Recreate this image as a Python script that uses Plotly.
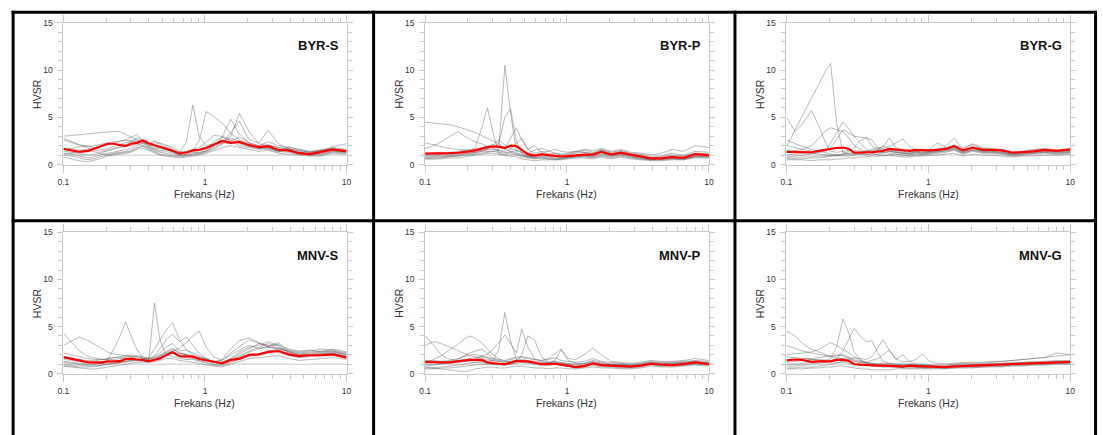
import plotly.graph_objects as go

# Frequency samples (Hz) shared by every HVSR curve
FREQ = [0.10, 0.115, 0.13, 0.15, 0.17, 0.19, 0.205, 0.225, 0.25, 0.275,
        0.30, 0.33, 0.365, 0.40, 0.44, 0.48, 0.53, 0.59, 0.66, 0.74,
        0.82, 0.91, 1.02, 1.15, 1.32, 1.52, 1.75, 2.05, 2.4, 2.8,
        3.3, 3.9, 4.6, 5.5, 6.6, 8.0, 10.0]

PANEL_NAMES = ["BYR-S", "BYR-P", "BYR-G", "MNV-S", "MNV-P", "MNV-G"]

X_TICKS = [0.1, 1, 10]
X_TICK_TEXT = ["0.1", "1", "10"]
X_MINOR = [0.2, 0.3, 0.4, 0.5, 0.6, 0.7, 0.8, 0.9, 2, 3, 4, 5, 6, 7, 8, 9]
Y_TICKS = [0, 5, 10, 15]
Y_MINOR = [1, 2, 3, 4, 6, 7, 8, 9, 11, 12, 13, 14]

# ---- BYR-S ----
BYR_S_MEAN = [1.65, 1.5, 1.35, 1.45, 1.75, 2.0, 2.2, 2.2, 2.05, 1.95,
              2.2, 2.3, 2.55, 2.25, 2.05, 1.9, 1.7, 1.45, 1.15, 1.3,
              1.5, 1.55, 1.75, 2.1, 2.5, 2.3, 2.4, 2.05, 1.85, 1.95,
              1.55, 1.5, 1.2, 1.1, 1.35, 1.6, 1.4]
BYR_S_CURVES = [
    [3.0, 3.1, 3.2, 3.3, 3.35, 3.4, 3.45, 3.5, 3.5, 3.2, 2.9, 2.6, 2.4, 2.1, 1.9, 1.7, 1.6, 1.4, 1.2, 1.3,
     1.5, 1.6, 1.8, 2.0, 2.3, 2.2, 2.5, 2.0, 1.7, 1.9, 1.6, 1.5, 1.3, 1.2, 1.3, 1.6, 1.5],
    [2.8, 2.4, 2.1, 1.9, 2.0, 2.2, 2.3, 2.4, 2.5, 2.6, 2.5, 2.4, 2.2, 2.0, 1.7, 1.8, 1.6, 1.5, 1.3, 2.4,
     6.3, 3.0, 2.0, 2.2, 2.6, 2.4, 2.0, 1.8, 1.6, 1.8, 1.4, 1.6, 1.3, 1.0, 1.2, 1.4, 1.3],
    [1.8, 1.6, 1.5, 1.6, 1.8, 2.0, 2.1, 2.2, 2.4, 2.6, 2.9, 3.2, 2.4, 2.0, 2.3, 2.2, 1.9, 1.6, 1.3, 1.3,
     1.5, 2.5, 5.6, 5.1, 4.4, 3.3, 2.6, 2.2, 1.8, 1.7, 1.4, 1.3, 1.1, 1.0, 1.1, 1.3, 1.2],
    [1.4, 1.3, 1.1, 1.0, 1.1, 1.3, 1.5, 1.6, 1.8, 1.9, 2.0, 2.2, 2.0, 1.8, 1.6, 1.5, 1.4, 1.2, 1.0, 1.1,
     1.3, 1.2, 1.5, 2.0, 2.4, 3.0, 5.4, 3.5, 2.2, 2.0, 1.8, 1.7, 1.4, 1.3, 1.5, 1.8, 1.6],
    [1.2, 1.1, 0.9, 0.7, 0.9, 1.1, 1.2, 1.3, 1.5, 1.6, 1.7, 2.0, 2.3, 1.9, 1.4, 1.3, 1.2, 1.0, 0.9, 1.0,
     1.2, 1.3, 1.4, 1.9, 2.9, 4.8, 3.2, 2.3, 2.0, 1.7, 1.5, 1.4, 1.2, 1.0, 1.0, 1.4, 1.3],
    [1.0, 0.9, 0.7, 0.5, 0.7, 0.9, 1.0, 1.2, 1.3, 1.4, 1.5, 1.8, 1.9, 1.6, 1.3, 1.1, 1.0, 0.9, 0.8, 0.9,
     1.0, 1.1, 1.3, 1.6, 2.2, 3.4, 4.6, 2.6, 2.3, 3.6, 2.2, 1.7, 1.3, 1.1, 1.2, 1.5, 1.4],
    [0.8, 0.6, 0.4, 0.3, 0.5, 0.7, 0.9, 1.0, 1.1, 1.2, 1.3, 1.6, 1.7, 1.5, 1.2, 1.0, 0.9, 0.8, 0.7, 0.8,
     0.9, 1.0, 1.2, 1.5, 1.8, 2.0, 1.8, 1.6, 1.4, 1.5, 1.2, 1.1, 1.0, 0.9, 0.9, 1.2, 1.1],
    [2.6, 2.3, 2.0, 1.7, 1.5, 1.4, 1.5, 1.7, 1.9, 2.1, 2.4, 2.6, 2.3, 2.2, 2.5, 2.3, 2.1, 1.8, 1.4, 1.3,
     1.6, 1.8, 2.4, 3.1, 3.0, 2.6, 2.2, 1.9, 1.7, 1.6, 1.3, 1.9, 1.6, 1.3, 1.4, 1.9, 2.2],
    [1.1, 1.2, 1.4, 1.5, 1.3, 1.1, 1.0, 1.1, 1.2, 1.3, 1.4, 1.7, 2.0, 1.7, 1.5, 1.4, 1.6, 1.3, 1.0, 1.0,
     1.1, 1.2, 1.4, 1.8, 2.2, 2.8, 2.4, 2.0, 1.9, 2.1, 1.8, 1.6, 1.5, 1.3, 1.6, 1.7, 1.5],
    [1.6, 1.7, 1.9, 2.0, 1.7, 1.6, 1.7, 1.9, 2.1, 2.3, 2.5, 2.8, 2.6, 2.3, 2.0, 1.8, 1.6, 1.4, 1.2, 1.2,
     1.4, 1.5, 1.7, 2.4, 2.9, 2.5, 2.9, 2.3, 2.0, 2.4, 2.0, 1.8, 1.6, 1.4, 1.5, 1.5, 1.4],
]

# ---- BYR-P ----
BYR_P_MEAN = [1.15, 1.15, 1.15, 1.2, 1.25, 1.3, 1.4, 1.5, 1.7, 1.85,
              1.9, 1.9, 1.75, 2.0, 1.95, 1.55, 1.1, 0.95, 1.1, 1.0,
              0.95, 0.85, 0.9, 1.0, 1.05, 1.05, 1.35, 1.05, 1.25, 1.05,
              0.85, 0.65, 0.65, 0.8, 0.7, 1.1, 1.0]
BYR_P_CURVES = [
    [4.5, 4.4, 4.3, 4.2, 4.0, 3.8, 3.6, 3.4, 3.1, 2.8, 2.5, 2.2, 1.7, 1.3, 1.1, 0.9, 0.8, 0.9, 1.0, 0.9,
     0.8, 0.8, 0.9, 1.0, 1.1, 1.0, 1.3, 1.0, 1.2, 1.0, 0.8, 0.6, 0.6, 0.7, 0.7, 1.0, 0.9],
    [0.7, 0.75, 0.8, 0.9, 1.0, 1.1, 1.2, 1.3, 1.4, 1.4, 1.4, 1.5, 10.5, 5.5, 1.3, 1.0, 0.8, 0.7, 0.8, 0.7,
     0.6, 0.6, 0.8, 0.9, 0.9, 0.8, 1.1, 0.9, 1.1, 0.9, 0.7, 0.5, 0.6, 0.7, 0.6, 0.9, 0.9],
    [1.2, 1.2, 1.3, 1.3, 1.4, 1.5, 1.6, 1.7, 3.8, 6.0, 3.5, 1.2, 1.0, 1.3, 1.5, 1.2, 0.9, 0.8, 0.9, 0.8,
     0.7, 0.7, 0.8, 0.9, 1.0, 0.9, 1.2, 0.9, 1.1, 0.8, 0.7, 0.6, 0.6, 0.7, 0.6, 0.9, 0.8],
    [0.6, 0.6, 0.7, 0.8, 0.9, 1.0, 1.1, 1.2, 1.4, 1.6, 1.9, 2.2, 5.0, 5.9, 2.5, 1.2, 0.8, 0.7, 0.7, 0.6,
     0.6, 0.6, 0.7, 0.8, 0.9, 0.8, 1.0, 0.8, 1.0, 0.8, 0.6, 0.5, 0.5, 0.6, 0.6, 0.8, 0.8],
    [1.7, 2.0, 2.4, 3.0, 3.5, 3.0, 2.7, 2.4, 2.2, 1.9, 1.7, 1.5, 1.3, 1.1, 1.0, 0.8, 0.7, 0.6, 0.7, 0.6,
     0.5, 0.6, 0.7, 0.8, 0.8, 0.7, 0.9, 0.7, 0.9, 0.7, 0.6, 0.5, 0.5, 0.6, 0.5, 0.8, 0.8],
    [2.3, 2.1, 1.9, 1.7, 1.6, 1.5, 1.5, 1.6, 1.8, 2.0, 2.1, 1.9, 1.6, 2.8, 3.9, 2.6, 1.6, 1.2, 1.4, 1.1,
     1.2, 1.0, 1.1, 1.3, 1.5, 1.3, 1.6, 1.3, 1.5, 1.2, 1.1, 0.8, 0.9, 1.2, 1.0, 1.4, 1.3],
    [1.0, 1.0, 1.1, 1.1, 1.2, 1.3, 1.3, 1.4, 1.5, 1.6, 1.6, 1.5, 1.4, 1.6, 2.2, 2.8, 1.6, 2.0, 1.3, 1.4,
     1.6, 1.4, 1.3, 1.4, 1.6, 1.5, 1.7, 1.4, 1.6, 1.3, 1.2, 1.0, 1.2, 1.6, 1.4, 2.0, 1.8],
    [0.6, 0.6, 0.6, 0.7, 0.7, 0.8, 0.9, 1.0, 1.1, 1.2, 1.2, 1.1, 1.0, 0.9, 0.8, 0.6, 0.5, 0.4, 0.5, 0.5,
     0.5, 0.5, 0.6, 0.7, 0.7, 0.6, 0.8, 0.6, 0.8, 0.6, 0.5, 0.4, 0.4, 0.5, 0.5, 0.7, 0.7],
    [0.9, 0.9, 1.0, 1.0, 1.1, 1.2, 1.2, 1.3, 1.5, 1.7, 2.1, 2.6, 2.1, 1.7, 1.5, 1.3, 1.2, 1.5, 1.7, 1.4,
     1.2, 1.1, 1.2, 1.4, 1.3, 1.2, 1.5, 1.2, 1.4, 1.1, 1.0, 0.7, 0.8, 1.0, 0.9, 1.2, 1.1],
    [0.8, 0.8, 0.8, 0.9, 0.9, 1.0, 1.0, 1.1, 1.2, 1.3, 1.4, 1.3, 1.2, 1.4, 1.2, 1.0, 0.9, 0.8, 1.0, 0.9,
     0.9, 0.8, 1.0, 1.2, 1.3, 1.1, 1.5, 1.1, 1.3, 1.0, 0.8, 0.7, 0.7, 0.9, 0.8, 1.2, 1.1],
]

# ---- BYR-G ----
BYR_G_MEAN = [1.35, 1.35, 1.35, 1.3, 1.45, 1.6, 1.65, 1.75, 1.8, 1.65,
              1.25, 1.3, 1.3, 1.3, 1.35, 1.45, 1.65, 1.6, 1.5, 1.45,
              1.55, 1.5, 1.5, 1.55, 1.65, 1.95, 1.5, 1.8, 1.55, 1.55,
              1.5, 1.25, 1.3, 1.4, 1.55, 1.45, 1.6]
BYR_G_CURVES = [
    [1.9, 3.7, 5.2, 7.0, 8.6, 10.0, 10.7, 4.5, 1.3, 1.1, 1.0, 1.1, 1.2, 1.3, 1.4, 1.5, 1.4, 1.3, 1.2, 1.1,
     1.2, 1.1, 1.2, 1.3, 1.4, 1.6, 1.2, 1.5, 1.3, 1.3, 1.2, 1.0, 1.1, 1.2, 1.3, 1.2, 1.3],
    [5.0, 3.5, 4.3, 5.7, 4.0, 2.2, 1.4, 1.3, 1.4, 1.5, 1.5, 1.4, 1.3, 1.4, 1.5, 1.6, 1.4, 1.3, 1.2, 1.2,
     1.3, 1.2, 1.3, 1.4, 1.5, 1.7, 1.3, 1.6, 1.4, 1.4, 1.3, 1.1, 1.2, 1.3, 1.4, 1.3, 1.4],
    [1.5, 1.5, 1.6, 2.0, 2.8, 3.6, 3.9, 3.7, 3.5, 2.8, 2.0, 1.6, 1.4, 1.5, 1.6, 2.0, 1.6, 1.5, 1.4, 1.3,
     1.4, 1.3, 1.4, 1.5, 1.6, 1.8, 1.4, 1.7, 1.5, 1.5, 1.4, 1.2, 1.3, 1.4, 1.6, 1.4, 1.5],
    [0.8, 0.9, 1.0, 1.1, 1.3, 1.6, 2.3, 3.3, 4.5, 3.8, 3.0, 2.3, 1.6, 1.2, 1.0, 0.9, 1.0, 1.1, 1.0, 0.9,
     1.0, 1.0, 1.1, 1.2, 1.3, 1.5, 1.1, 1.4, 1.2, 1.2, 1.1, 0.9, 1.0, 1.1, 1.2, 1.1, 1.2],
    [2.0, 1.8, 1.6, 1.4, 1.3, 1.4, 1.8, 2.6, 3.7, 3.3, 3.0, 2.9, 2.8, 2.6, 1.8, 1.3, 1.2, 1.1, 1.0, 1.0,
     1.1, 1.1, 1.2, 1.3, 1.4, 1.6, 1.2, 1.5, 1.3, 1.3, 1.2, 1.0, 1.1, 1.2, 1.3, 1.2, 1.3],
    [0.6, 0.6, 0.6, 0.7, 0.7, 0.8, 0.9, 1.0, 1.1, 1.4, 1.8, 2.5, 2.9, 2.0, 1.6, 1.9, 2.8, 1.8, 1.5, 1.4,
     1.6, 1.5, 1.6, 2.3, 1.9, 2.8, 1.6, 2.2, 1.8, 1.7, 1.6, 1.4, 1.4, 1.6, 1.7, 1.5, 1.6],
    [2.6, 2.2, 1.9, 1.6, 1.4, 1.2, 1.1, 1.0, 0.9, 0.9, 1.0, 1.2, 1.4, 1.6, 1.8, 1.7, 1.9, 2.3, 2.7, 1.9,
     1.6, 1.4, 1.5, 1.6, 1.8, 2.0, 1.8, 2.1, 1.7, 1.6, 1.5, 1.3, 1.3, 1.5, 1.6, 1.5, 1.6],
    [0.5, 0.5, 0.5, 0.4, 0.5, 0.5, 0.5, 0.6, 0.6, 0.7, 0.7, 0.8, 0.8, 0.9, 0.9, 1.0, 1.0, 0.9, 0.8, 0.8,
     0.9, 0.9, 1.0, 1.0, 1.1, 1.2, 0.9, 1.1, 1.0, 1.0, 0.9, 0.8, 0.9, 0.9, 1.0, 1.0, 1.1],
    [1.0, 1.1, 1.2, 1.2, 1.1, 1.0, 0.9, 0.9, 1.0, 1.1, 1.2, 1.1, 1.0, 1.2, 1.3, 1.2, 1.4, 1.3, 1.2, 1.1,
     1.3, 1.2, 1.3, 1.4, 1.5, 1.8, 1.3, 1.7, 1.4, 1.4, 1.3, 1.1, 1.2, 1.3, 1.4, 1.3, 1.4],
    [0.7, 0.7, 0.8, 0.8, 0.9, 0.9, 1.0, 1.0, 1.1, 1.2, 1.3, 1.2, 1.1, 1.0, 1.1, 1.3, 1.5, 1.4, 1.3, 1.2,
     1.4, 1.3, 1.4, 1.6, 1.7, 2.1, 1.5, 1.9, 1.6, 1.6, 1.5, 1.2, 1.3, 1.5, 1.5, 1.4, 1.5],
]

# ---- MNV-S ----
MNV_S_MEAN = [1.75, 1.55, 1.35, 1.2, 1.2, 1.2, 1.3, 1.3, 1.3, 1.55,
              1.6, 1.5, 1.45, 1.3, 1.45, 1.6, 1.95, 2.3, 1.85, 1.85,
              1.8, 1.55, 1.4, 1.2, 1.1, 1.45, 1.6, 2.0, 2.05, 2.3,
              2.4, 2.05, 1.85, 1.95, 1.95, 2.05, 1.7]
MNV_S_CURVES = [
    [4.3, 3.3, 2.4, 1.8, 1.6, 1.5, 1.5, 1.5, 1.6, 1.8, 1.9, 1.8, 1.6, 1.5, 1.8, 2.2, 2.8, 3.2, 2.4, 2.5,
     2.0, 1.8, 1.6, 1.3, 1.4, 2.0, 2.5, 3.0, 2.7, 2.8, 2.6, 2.4, 2.2, 2.3, 2.4, 2.4, 2.0],
    [3.0, 3.5, 3.9, 3.5, 3.0, 2.6, 2.3, 2.1, 2.0, 1.9, 1.8, 1.6, 1.4, 1.3, 1.5, 1.9, 2.2, 2.6, 2.2, 2.0,
     1.9, 1.7, 1.5, 1.2, 1.2, 1.6, 2.1, 2.7, 3.2, 3.0, 2.7, 2.3, 2.0, 2.1, 2.2, 2.3, 2.0],
    [1.2, 1.1, 1.0, 0.9, 1.0, 1.2, 1.5, 2.5, 3.9, 5.5, 4.0, 2.6, 1.6, 1.4, 1.5, 1.7, 2.0, 2.2, 1.8, 1.7,
     1.6, 1.4, 1.2, 1.0, 0.9, 1.3, 1.5, 1.8, 2.0, 2.4, 2.6, 2.0, 1.8, 1.9, 2.0, 2.1, 1.8],
    [0.8, 0.8, 0.7, 0.7, 0.8, 0.9, 1.0, 1.1, 1.2, 1.3, 1.4, 1.5, 1.4, 1.3, 7.5, 3.6, 2.0, 1.8, 1.6, 1.5,
     1.5, 1.3, 1.1, 0.9, 0.8, 1.2, 1.5, 1.9, 2.0, 2.2, 2.3, 1.9, 1.7, 1.8, 1.9, 2.0, 1.7],
    [1.5, 1.4, 1.3, 1.2, 1.1, 1.0, 1.0, 1.1, 1.2, 1.3, 1.4, 1.5, 1.6, 1.7, 2.6, 3.6, 4.6, 5.4, 3.6, 2.5,
     2.2, 1.9, 1.6, 1.3, 1.1, 1.5, 1.8, 2.3, 2.6, 2.9, 3.3, 2.4, 2.0, 2.0, 2.1, 2.2, 1.9],
    [1.0, 0.9, 0.9, 0.8, 0.8, 0.9, 0.9, 1.0, 1.1, 1.2, 1.3, 1.4, 1.5, 1.6, 1.9, 2.6, 3.6, 4.2, 3.4, 3.9,
     3.0, 2.2, 1.6, 1.2, 1.0, 1.4, 1.9, 2.4, 2.8, 3.2, 2.9, 2.2, 1.9, 2.0, 2.1, 2.2, 1.8],
    [1.8, 1.6, 1.5, 1.4, 1.4, 1.5, 1.6, 1.7, 1.8, 1.9, 2.0, 1.8, 1.6, 1.5, 1.6, 1.8, 2.1, 2.4, 2.7, 3.3,
     4.0, 4.5, 2.8, 1.8, 1.4, 2.2, 2.9, 3.6, 3.2, 2.9, 3.1, 2.6, 2.4, 2.5, 2.3, 2.6, 2.3],
    [0.8, 0.7, 0.6, 0.5, 0.5, 0.6, 0.7, 0.8, 0.9, 1.0, 1.1, 1.2, 1.2, 1.2, 1.3, 1.4, 1.6, 1.6, 1.4, 1.3,
     1.2, 1.1, 0.9, 0.8, 0.7, 1.0, 1.3, 1.6, 1.7, 1.8, 1.9, 1.6, 1.4, 1.5, 1.6, 1.7, 1.5],
    [2.2, 2.0, 1.8, 1.6, 1.5, 1.5, 1.6, 1.7, 1.7, 1.6, 1.5, 1.4, 1.3, 1.3, 1.5, 1.7, 2.0, 2.3, 2.1, 2.0,
     1.8, 1.6, 1.4, 1.2, 1.5, 2.6, 3.5, 3.8, 3.3, 2.8, 2.7, 2.5, 2.3, 2.4, 2.6, 2.5, 2.2],
    [1.3, 1.2, 1.1, 1.0, 1.0, 1.1, 1.2, 1.3, 1.4, 1.5, 1.7, 1.9, 1.8, 1.6, 1.7, 2.0, 2.4, 2.7, 2.2, 2.0,
     1.9, 1.7, 1.5, 1.3, 1.2, 1.6, 2.3, 2.8, 3.0, 3.4, 3.0, 2.3, 2.1, 2.2, 2.3, 2.4, 2.1],
]

# ---- MNV-P ----
MNV_P_MEAN = [1.25, 1.2, 1.2, 1.2, 1.3, 1.4, 1.45, 1.45, 1.45, 1.2,
              1.1, 1.05, 1.0, 1.15, 1.35, 1.3, 1.3, 1.15, 1.0, 1.0,
              1.05, 0.95, 0.8, 0.7, 0.8, 1.1, 0.9, 0.85, 0.8, 0.75,
              0.85, 1.05, 0.95, 0.9, 1.0, 1.2, 1.0]
MNV_P_CURVES = [
    [4.0, 3.0, 2.0, 1.5, 1.4, 1.3, 1.3, 1.2, 1.2, 1.1, 1.0, 1.0, 0.9, 1.0, 1.1, 1.2, 1.1, 1.0, 0.9, 0.9,
     1.0, 0.9, 0.8, 0.7, 0.8, 1.0, 0.9, 0.8, 0.8, 0.7, 0.8, 1.0, 0.9, 0.9, 1.0, 1.1, 1.0],
    [3.0, 3.4, 3.2, 2.8, 2.4, 2.1, 1.9, 1.8, 1.6, 1.5, 1.4, 1.3, 1.2, 1.3, 1.4, 1.5, 1.4, 1.3, 1.2, 1.2,
     1.3, 1.2, 1.1, 1.0, 1.1, 1.3, 1.1, 1.0, 1.0, 0.9, 1.0, 1.2, 1.1, 1.1, 1.2, 1.3, 1.2],
    [1.2, 1.5, 1.9, 2.5, 3.1, 3.7, 4.0, 3.8, 3.3, 2.6, 2.0, 1.6, 1.3, 1.2, 1.3, 1.4, 1.3, 1.2, 1.1, 1.1,
     1.2, 1.1, 1.0, 0.9, 1.0, 1.2, 1.0, 0.9, 0.9, 0.8, 0.9, 1.1, 1.0, 1.0, 1.1, 1.2, 1.1],
    [0.6, 0.6, 0.7, 0.8, 0.9, 1.0, 1.1, 1.2, 1.3, 1.3, 1.4, 2.5, 6.5, 3.5, 1.5, 1.3, 1.2, 1.1, 1.0, 1.0,
     1.0, 0.9, 0.8, 0.7, 0.8, 1.0, 0.8, 0.8, 0.7, 0.7, 0.8, 1.0, 0.9, 0.9, 0.9, 1.1, 1.0],
    [0.8, 0.9, 1.0, 1.1, 1.2, 1.3, 1.4, 1.5, 1.8, 2.1, 2.5, 3.3, 4.1, 3.2, 2.2, 4.7, 2.8, 1.6, 1.3, 1.2,
     1.2, 1.1, 1.0, 0.8, 0.9, 1.1, 1.0, 0.9, 0.9, 0.8, 0.9, 1.1, 1.0, 1.0, 1.1, 1.2, 1.1],
    [0.5, 0.5, 0.6, 0.6, 0.7, 0.8, 0.8, 0.9, 1.0, 1.0, 1.0, 0.9, 0.9, 1.0, 1.2, 2.0, 4.0, 3.6, 1.8, 1.2,
     1.0, 0.9, 0.8, 0.6, 0.7, 0.9, 0.7, 0.7, 0.6, 0.6, 0.7, 0.9, 0.8, 0.8, 0.9, 1.0, 0.9],
    [1.4, 1.4, 1.3, 1.3, 1.4, 1.5, 1.6, 1.7, 1.8, 1.7, 1.6, 1.5, 1.4, 1.6, 1.8, 1.7, 1.6, 1.5, 1.4, 1.6,
     2.1, 2.6, 1.6, 1.5, 2.0, 2.7, 2.0, 1.3, 1.2, 1.1, 1.2, 1.4, 1.3, 1.3, 1.4, 1.6, 1.4],
    [0.7, 0.6, 0.5, 0.4, 0.3, 0.2, 0.3, 0.5, 0.6, 0.7, 0.7, 0.6, 0.6, 0.7, 0.8, 0.8, 0.7, 0.6, 0.6, 0.5,
     0.6, 0.6, 0.5, 0.5, 0.6, 0.7, 0.6, 0.6, 0.5, 0.5, 0.6, 0.8, 0.7, 0.7, 0.8, 0.9, 0.8],
    [1.0, 1.0, 1.1, 1.2, 1.5, 1.9, 2.2, 2.4, 2.6, 2.2, 1.6, 1.4, 1.3, 1.5, 1.6, 1.8, 1.7, 1.5, 1.4, 1.5,
     1.7, 1.4, 1.3, 1.2, 1.3, 1.6, 1.3, 1.2, 1.1, 1.0, 1.1, 1.3, 1.2, 1.2, 1.3, 1.4, 1.3],
    [1.2, 1.2, 1.3, 1.4, 1.6, 1.8, 2.0, 2.0, 1.9, 1.7, 1.4, 1.3, 1.1, 1.2, 1.3, 1.4, 1.3, 1.2, 1.1, 1.1,
     1.4, 2.5, 1.4, 1.1, 1.1, 1.4, 1.2, 1.0, 1.0, 0.9, 1.0, 1.2, 1.1, 1.1, 1.2, 1.3, 1.1],
]

# ---- MNV-G ----
MNV_G_MEAN = [1.4, 1.5, 1.45, 1.25, 1.3, 1.3, 1.3, 1.45, 1.45, 1.35,
              1.0, 0.95, 0.9, 0.9, 0.85, 0.85, 0.85, 0.8, 0.75, 0.85,
              0.8, 0.75, 0.75, 0.72, 0.7, 0.78, 0.82, 0.85, 0.85, 0.9,
              0.95, 1.0, 1.05, 1.1, 1.15, 1.2, 1.25]
MNV_G_CURVES = [
    [4.5, 4.0, 3.2, 2.6, 2.3, 2.0, 1.8, 1.7, 1.6, 1.4, 1.1, 1.0, 0.9, 0.9, 0.8, 0.8, 0.8, 0.8, 0.7, 0.8,
     0.7, 0.7, 0.7, 0.7, 0.6, 0.7, 0.8, 0.8, 0.8, 0.9, 0.9, 1.0, 1.0, 1.1, 1.1, 1.2, 1.2],
    [3.0, 2.7, 2.4, 2.2, 2.0, 1.9, 1.8, 1.9, 2.0, 1.8, 1.5, 1.3, 1.2, 1.1, 1.0, 1.0, 1.0, 0.9, 0.9, 1.0,
     0.9, 0.9, 0.9, 0.8, 0.8, 0.9, 1.0, 1.0, 1.0, 1.1, 1.1, 1.2, 1.2, 1.3, 1.3, 1.4, 1.4],
    [1.0, 1.0, 1.1, 1.2, 1.3, 1.4, 1.6, 2.8, 5.8, 4.3, 2.3, 1.5, 1.1, 1.0, 0.9, 0.8, 0.8, 0.7, 0.7, 0.7,
     0.7, 0.6, 0.6, 0.6, 0.6, 0.7, 0.7, 0.7, 0.8, 0.8, 0.8, 0.9, 0.9, 1.0, 1.0, 1.1, 1.1],
    [2.0, 2.1, 2.2, 2.3, 2.6, 3.0, 3.3, 3.0, 2.6, 2.2, 1.8, 1.4, 1.2, 1.1, 1.0, 0.9, 0.9, 0.8, 0.8, 0.8,
     0.8, 0.8, 0.8, 0.7, 0.7, 0.8, 0.8, 0.9, 0.9, 0.9, 1.0, 1.0, 1.1, 1.1, 1.2, 1.2, 1.3],
    [0.8, 0.8, 0.9, 1.0, 1.1, 1.2, 1.3, 1.6, 2.4, 3.6, 4.8, 4.0, 3.4, 3.5, 2.2, 1.3, 1.1, 1.0, 0.9, 0.9,
     0.9, 0.8, 0.8, 0.7, 0.7, 0.8, 0.9, 0.9, 0.9, 1.0, 1.0, 1.1, 1.1, 1.2, 1.2, 1.3, 1.3],
    [0.6, 0.6, 0.7, 0.7, 0.8, 0.9, 1.0, 1.1, 1.3, 1.5, 1.7, 1.6, 1.5, 1.8, 2.8, 3.6, 2.5, 1.5, 2.0, 1.3,
     1.0, 0.9, 0.8, 0.8, 0.7, 0.8, 0.8, 0.9, 0.9, 0.9, 1.0, 1.0, 1.1, 1.1, 1.2, 1.2, 1.2],
    [1.5, 1.5, 1.6, 1.6, 1.7, 1.8, 1.9, 2.0, 1.9, 1.6, 1.3, 1.2, 1.2, 1.4, 1.6, 2.0, 2.5, 1.6, 1.2, 1.3,
     1.5, 2.1, 1.3, 1.1, 1.0, 1.1, 1.2, 1.2, 1.2, 1.3, 1.3, 1.4, 1.5, 1.6, 1.7, 1.8, 2.0],
    [0.5, 0.5, 0.5, 0.6, 0.6, 0.7, 0.7, 0.8, 0.8, 0.7, 0.6, 0.5, 0.5, 0.4, 0.4, 0.4, 0.4, 0.5, 0.5, 0.5,
     0.5, 0.5, 0.5, 0.5, 0.5, 0.6, 0.6, 0.6, 0.7, 0.7, 0.7, 0.8, 0.8, 0.9, 0.9, 1.0, 1.0],
    [1.2, 1.3, 1.4, 1.5, 1.5, 1.4, 1.4, 1.5, 1.6, 1.7, 1.4, 1.2, 1.1, 1.0, 1.0, 1.1, 1.1, 1.0, 1.0, 1.0,
     1.0, 1.0, 0.9, 0.9, 0.9, 1.0, 1.1, 1.1, 1.1, 1.2, 1.3, 1.4, 1.5, 1.6, 1.7, 2.2, 2.0],
    [1.8, 1.7, 1.6, 1.5, 1.4, 1.3, 1.3, 1.2, 1.2, 1.1, 1.0, 0.9, 0.9, 0.8, 0.8, 0.7, 0.7, 0.7, 0.6, 0.6,
     0.6, 0.6, 0.6, 0.6, 0.6, 0.6, 0.7, 0.7, 0.7, 0.8, 0.8, 0.9, 0.9, 1.0, 1.0, 1.1, 1.1],
]

PANEL_MEANS = [BYR_S_MEAN, BYR_P_MEAN, BYR_G_MEAN, MNV_S_MEAN, MNV_P_MEAN, MNV_G_MEAN]
PANEL_CURVES = [BYR_S_CURVES, BYR_P_CURVES, BYR_G_CURVES, MNV_S_CURVES, MNV_P_CURVES, MNV_G_CURVES]

# ---------------------------------------------------------------- layout
W, H = 1103, 435
COL_X = [(58, 344), (423.3, 710), (788.3, 1075)]      # plot box left/right (px)
ROW_Y = [(18.3, 163.3), (232.7, 377.3)]                # plot box top/bottom (px)
AXIS_GRAY = "#c8c8c8"
TEXT_COLOR = "#333333"
FONT = "Arial, Liberation Sans, sans-serif"
CURVE_COLOR = "rgba(95,95,95,0.55)"
MEAN_COLOR = "#ff0000"
N = len(PANEL_NAMES)


def px_x(v):
    return v / W


def px_y(v):
    return 1 - v / H


def tick_style(major_len, minor_vals, minor_len=4):
    return dict(ticks="outside", ticklen=major_len, tickwidth=1, tickcolor=AXIS_GRAY,
                minor=dict(tickmode="array", tickvals=minor_vals, ticks="outside",
                           ticklen=minor_len, tickwidth=1, tickcolor=AXIS_GRAY, showgrid=False))


fig = go.Figure()
layout = dict(
    width=W, height=H, margin=dict(l=0, r=0, t=0, b=0),
    paper_bgcolor="white", plot_bgcolor="white", showlegend=False,
    font=dict(family=FONT, color=TEXT_COLOR),
)
annotations = []
shapes = []

for i, name in enumerate(PANEL_NAMES):
    r, c = divmod(i, 3)
    n = "" if i == 0 else str(i + 1)
    m = str(N + i + 1)             # id of the top/right tick-only axes of this panel
    x0, x1 = COL_X[c]
    top, bottom = ROW_Y[r]

    for curve in PANEL_CURVES[i]:
        fig.add_trace(go.Scatter(x=FREQ, y=curve, mode="lines", xaxis="x" + n, yaxis="y" + n,
                                 line=dict(color=CURVE_COLOR, width=0.8), hoverinfo="skip"))
    fig.add_trace(go.Scatter(x=FREQ, y=PANEL_MEANS[i], mode="lines", xaxis="x" + n, yaxis="y" + n,
                             line=dict(color=MEAN_COLOR, width=2.2)))
    # empty trace binding the top/right tick axes
    fig.add_trace(go.Scatter(x=[None], y=[None], mode="lines", xaxis="x" + m, yaxis="y" + m,
                             hoverinfo="skip"))

    layout["xaxis" + n] = dict(
        type="log", range=[-1, 1], domain=[px_x(x0), px_x(x1)], anchor="y" + n,
        showgrid=False, zeroline=False, showline=True, linecolor=AXIS_GRAY, linewidth=1,
        mirror=True, tickmode="array", tickvals=X_TICKS, ticktext=X_TICK_TEXT,
        tickfont=dict(size=8.5, color=TEXT_COLOR), ticklabelstandoff=2,
        fixedrange=True, **tick_style(7, X_MINOR),
    )
    layout["yaxis" + n] = dict(
        range=[0, 15], domain=[px_y(bottom), px_y(top)], anchor="x" + n,
        showgrid=False, zeroline=False, showline=True, linecolor=AXIS_GRAY, linewidth=1,
        mirror=True, tickmode="array", tickvals=Y_TICKS,
        tickfont=dict(size=8.5, color=TEXT_COLOR), ticklabelstandoff=3,
        fixedrange=True, **tick_style(5, Y_MINOR),
    )
    layout["xaxis" + m] = dict(
        type="log", range=[-1, 1], overlaying="x" + n, anchor="y" + m, side="top",
        showgrid=False, zeroline=False, showline=False, showticklabels=False,
        tickmode="array", tickvals=X_TICKS, fixedrange=True, **tick_style(7, X_MINOR),
    )
    layout["yaxis" + m] = dict(
        range=[0, 15], overlaying="y" + n, anchor="x" + m, side="right",
        showgrid=False, zeroline=False, showline=False, showticklabels=False,
        tickmode="array", tickvals=Y_TICKS, fixedrange=True, **tick_style(5, Y_MINOR),
    )

    # reference line at HVSR = 1
    shapes.append(dict(type="line", xref="x" + n + " domain", x0=0, x1=1,
                       yref="y" + n, y0=1, y1=1, layer="below",
                       line=dict(color=AXIS_GRAY, width=1)))

    # axis titles and panel label
    annotations.append(dict(text="HVSR", xref="paper", yref="paper",
                            x=px_x(x0 - 26.5), y=px_y((top + bottom) / 2), textangle=-90,
                            showarrow=False, xanchor="center", yanchor="middle",
                            font=dict(size=10.5, color=TEXT_COLOR)))
    annotations.append(dict(text="Frekans (Hz)", xref="paper", yref="paper",
                            x=px_x((x0 + x1) / 2), y=px_y(bottom + 30.5),
                            showarrow=False, xanchor="center", yanchor="middle",
                            font=dict(size=10.5, color=TEXT_COLOR)))
    annotations.append(dict(text="<b>" + name + "</b>", xref="paper", yref="paper",
                            x=px_x(x1 - 6), y=px_y(top + 23.5),
                            showarrow=False, xanchor="right", yanchor="middle",
                            font=dict(size=13, color="#111111")))

# black panel frame
FRAME = dict(color="black", width=3)
for xv in (7.2, 371.3, 736.3, 1100.5):
    shapes.append(dict(type="line", xref="paper", yref="paper", x0=px_x(xv), x1=px_x(xv),
                       y0=px_y(6), y1=px_y(440), line=FRAME))
for yv in (7.5, 220.8):
    shapes.append(dict(type="line", xref="paper", yref="paper", x0=px_x(5.7), x1=px_x(1102),
                       y0=px_y(yv), y1=px_y(yv), line=FRAME))

layout["annotations"] = annotations
layout["shapes"] = shapes
fig.update_layout(**layout)
fig.write_html("out.html")
